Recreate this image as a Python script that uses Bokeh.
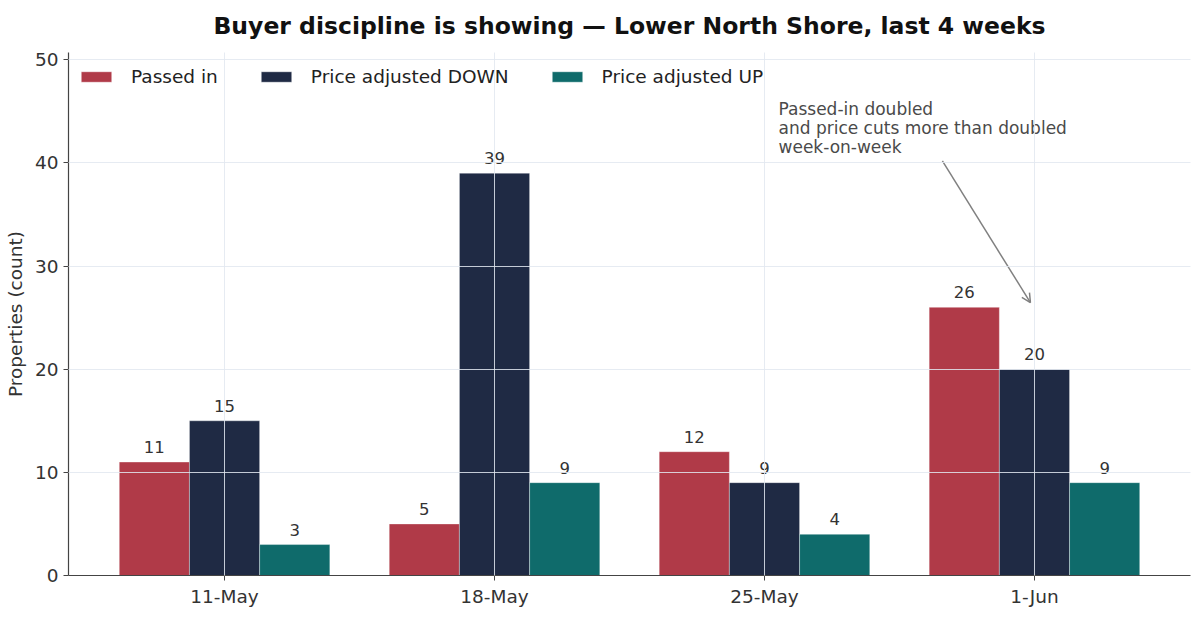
from bokeh.plotting import figure
from bokeh.models import (ColumnDataSource, FactorRange, Range1d, FixedTicker, Arrow,
                          OpenHead, Label, LabelSet)
from bokeh.transform import dodge
from bokeh.core.properties import value
from bokeh.embed import file_html
from bokeh.resources import INLINE

weeks = ["11-May", "18-May", "25-May", "1-Jun"]
passed_in = [11, 5, 12, 26]
price_down = [15, 39, 9, 20]
price_up = [3, 9, 4, 9]
series_names = ["Passed in", "Price adjusted DOWN", "Price adjusted UP"]
colors = ["#b03a48", "#1f2a44", "#0f6b6b"]
y_ticks = [0, 10, 20, 30, 40, 50]
title_text = "Buyer discipline is showing \u2014 Lower North Shore, last 4 weeks"
note_text = "Passed-in doubled\nand price cuts more than doubled\nweek-on-week"
note_pos = (2.552, 46.2)
arrow_from = (3.159, 40.2)
arrow_to = (3.485, 26.45)

FONT = "DejaVu Sans"

src = ColumnDataSource(dict(
    week=weeks, a=passed_in, b=price_down, c=price_up,
    at=[str(v) for v in passed_in], bt=[str(v) for v in price_down], ct=[str(v) for v in price_up]))

ymax = max(passed_in + price_down + price_up) * 1.3

p = figure(width=1200, height=617, output_backend="svg", toolbar_location=None,
           x_range=FactorRange(*weeks, range_padding=0.039),
           y_range=Range1d(0, ymax),
           min_border_left=68, min_border_right=10, min_border_top=52,
           min_border_bottom=42)

p.title.text = title_text
p.title.align = "center"
p.title.vertical_align = "top"
p.title.text_font = FONT
p.title.text_font_size = "23.5px"
p.title.text_font_style = "bold"
p.title.text_color = "#111111"
p.title.standoff = 21

w = 0.26
cols = ["a", "b", "c"]
tcols = ["at", "bt", "ct"]
offs = [-w, 0, w]
for col, tcol, off, color, name in zip(cols, tcols, offs, colors, series_names):
    p.vbar(x=dodge("week", off, range=p.x_range), top=col, width=w, source=src,
           fill_color=color, line_color="white", line_width=0.6, line_alpha=0.6,
           legend_label=name)
    p.add_layout(LabelSet(x=dodge("week", off, range=p.x_range), y=col, text=tcol, source=src,
                          text_align="center", text_baseline="alphabetic", y_offset=9,
                          text_font=value(FONT), text_font_size=value("16.5px"),
                          text_color="#333333"))

p.outline_line_color = None
p.background_fill_color = "white"

for g in (p.xgrid, p.ygrid):
    g.grid_line_color = "#e2e8f0"
    g.grid_line_alpha = 0.85
    g.grid_line_width = 1
    g.level = "overlay"

p.yaxis.ticker = FixedTicker(ticks=y_ticks)
p.yaxis.minor_tick_line_color = None
p.yaxis.axis_label = "Properties (count)"
p.yaxis.axis_label_text_font = FONT
p.yaxis.axis_label_text_font_size = "18.5px"
p.yaxis.axis_label_text_font_style = "normal"
p.yaxis.axis_label_text_color = "#333333"
p.yaxis.axis_label_standoff = 6

for ax in (p.xaxis, p.yaxis):
    ax.major_label_text_font = FONT
    ax.major_label_text_font_size = "18.5px"
    ax.major_label_text_color = "#333333"
    ax.axis_line_color = "#444444"
    ax.major_tick_line_color = "#444444"
    ax.major_tick_out = 5
    ax.major_tick_in = 0
    ax.axis_line_width = 1.2

p.xaxis.major_label_standoff = 5
p.yaxis.major_label_standoff = 5

leg = p.legend[0]
leg.location = "top_left"
leg.orientation = "horizontal"
leg.border_line_color = None
leg.background_fill_alpha = 0
leg.label_text_font = FONT
leg.label_text_font_size = "18.5px"
leg.label_text_color = "#222222"
leg.glyph_width = 38
leg.glyph_height = 13
leg.label_height = 30
leg.label_standoff = 16
leg.spacing = 39
leg.margin = 9
leg.padding = 9

p.add_layout(Label(x=note_pos[0], y=note_pos[1], text=note_text,
                   text_font=FONT, text_font_size="17px", text_color="#4a4a4a",
                   text_baseline="top", text_align="left", text_line_height=0.96))
p.add_layout(Arrow(x_start=arrow_from[0], y_start=arrow_from[1],
                   x_end=arrow_to[0], y_end=arrow_to[1],
                   line_color="#808080", line_width=1.5,
                   end=OpenHead(size=9, line_color="#808080", line_width=1.5)))

open("out.html", "w").write(file_html(p, INLINE))
